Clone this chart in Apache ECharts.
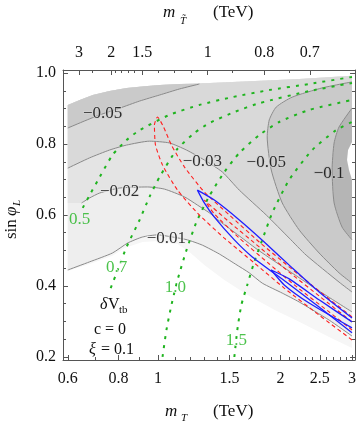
<!DOCTYPE html>
<html>
<head>
<meta charset="utf-8">
<script src="https://cdn.jsdelivr.net/npm/echarts@6/dist/echarts.min.js"></script>
<style>
html, body { margin: 0; padding: 0; background: #fff; }
#chart { width: 359px; height: 421px; }
</style>
</head>
<body>
<div id="chart"></div>
<script>
// ---- axis ticks ----
const bottomTickValues = [0.6, 0.8, 1, 1.5, 2, 2.5, 3];
const bottomMinorTicks = [0.7, 0.9, 1.1, 1.2, 1.3, 1.4, 1.6, 1.7, 1.8, 1.9, 2.1, 2.2, 2.3, 2.4, 2.6, 2.7, 2.8, 2.9];
// top axis: m_T~ labels sit at these m_T positions
const topTickPos = [0.639, 0.768, 0.915, 1.325, 1.825, 2.363];
const topTickLabels = ['3', '2', '1.5', '1', '0.8', '0.7'];
const topMinorTicks = [0.689, 0.787, 0.812, 0.843, 0.876, 0.999, 1.098, 1.206, 1.523, 2.103];
const leftTickValues = [0.2, 0.4, 0.6, 0.8, 1.0];
const leftMinorTicks = [0.25, 0.3, 0.35, 0.45, 0.5, 0.55, 0.65, 0.7, 0.75, 0.85, 0.9, 0.95];

// ---- shaded domain edges [m_T, sin phi_L] ----
const topEdge = [[0.600, 0.910], [0.642, 0.924], [0.691, 0.938], [0.760, 0.949], [0.837, 0.958], [0.927, 0.963],
  [1.009, 0.966], [1.129, 0.969], [1.338, 0.972], [1.677, 0.977], [2.224, 0.983], [3.0, 0.992]];
const bottomEdge = [[3.0, 0.225], [2.635, 0.256], [2.224, 0.299], [1.942, 0.332], [1.677, 0.372], [1.456, 0.417],
  [1.300, 0.459], [1.195, 0.496], [1.117, 0.518], [1.009, 0.527], [0.916, 0.524], [0.828, 0.507], [0.773, 0.485],
  [0.679, 0.462], [0.600, 0.442]];
const leftStep02 = [[0.600, 0.634]];

// ---- dV_tb contours ----
const c01 = [[0.600, 0.445], [0.679, 0.468], [0.773, 0.493], [0.842, 0.521], [0.916, 0.538], [0.997, 0.544],
  [1.085, 0.538], [1.181, 0.530], [1.286, 0.515], [1.416, 0.490], [1.549, 0.462], [1.677, 0.437], [1.805, 0.408],
  [2.021, 0.380], [2.224, 0.355], [2.635, 0.304], [3.0, 0.259]];
const c02 = [[0.649, 0.634], [0.679, 0.648], [0.719, 0.662], [0.805, 0.676], [0.942, 0.679], [1.037, 0.673],
  [1.162, 0.651], [1.250, 0.628], [1.338, 0.606], [1.416, 0.583], [1.585, 0.541], [1.774, 0.499], [2.102, 0.442],
  [2.490, 0.386], [3.0, 0.327]];
const c03 = [[0.600, 0.732], [0.679, 0.761], [0.760, 0.783], [0.837, 0.797], [0.953, 0.808], [1.067, 0.803],
  [1.175, 0.783], [1.300, 0.755], [1.440, 0.721], [1.585, 0.670], [1.846, 0.600], [2.102, 0.535], [2.314, 0.487],
  [2.788, 0.411], [3.0, 0.383]];
const c05a = [[0.600, 0.845], [0.660, 0.865], [0.719, 0.882], [0.805, 0.901], [0.901, 0.921], [1.009, 0.938],
  [1.129, 0.955], [1.264, 0.969]];
const c05b = [[3.0, 0.975], [2.533, 0.958], [2.138, 0.932], [1.953, 0.904], [1.878, 0.868], [1.856, 0.820],
  [1.899, 0.727], [2.021, 0.634], [2.224, 0.558], [2.490, 0.493], [2.788, 0.437], [3.0, 0.408]];
const c10 = [[3.0, 0.901], [2.788, 0.848], [2.711, 0.803], [2.680, 0.727], [2.711, 0.634], [2.836, 0.566], [3.0, 0.530]];
const notch = [[3.0, 0.806], [2.934, 0.783], [2.917, 0.755], [2.950, 0.727], [3.0, 0.699]];

// ---- m_T~ contours (green) ----
const g05 = [[0.653, 0.620], [0.679, 0.656], [0.719, 0.707], [0.773, 0.769], [0.837, 0.811], [0.901, 0.839],
  [1.067, 0.882], [1.264, 0.910], [1.523, 0.932], [1.878, 0.952], [2.353, 0.969], [3.0, 0.989]];
const g07 = [[0.765, 0.394], [0.805, 0.459], [0.837, 0.510], [0.901, 0.586], [0.953, 0.651], [1.009, 0.707],
  [1.110, 0.783], [1.229, 0.831], [1.338, 0.859], [1.541, 0.890], [1.774, 0.915], [2.353, 0.949], [3.0, 0.972]];
const g10 = [[1.026, 0.2], [1.049, 0.276], [1.079, 0.346], [1.117, 0.417], [1.175, 0.501], [1.243, 0.580],
  [1.338, 0.654], [1.456, 0.721], [1.585, 0.775], [1.774, 0.825], [1.987, 0.862], [2.353, 0.896], [3.0, 0.924]];
const g15 = [[1.541, 0.2], [1.567, 0.276], [1.603, 0.346], [1.658, 0.403], [1.725, 0.468], [1.805, 0.530],
  [1.910, 0.606], [2.102, 0.699], [2.394, 0.783], [2.742, 0.839], [3.0, 0.862]];

// ---- allowed regions (red dashed, blue solid) ----
const red1 = [[3.0, 0.313], [2.490, 0.386], [2.102, 0.454], [1.774, 0.524], [1.498, 0.600], [1.300, 0.665],
  [1.162, 0.735], [1.079, 0.797], [1.032, 0.848], [0.997, 0.876], [0.980, 0.854], [0.986, 0.797], [1.026, 0.741],
  [1.117, 0.670], [1.264, 0.600], [1.456, 0.535], [1.725, 0.465], [2.044, 0.394], [2.490, 0.318], [3.0, 0.248]];
const red2 = [[3.0, 0.299], [2.490, 0.372], [2.102, 0.439], [1.774, 0.510], [1.498, 0.580], [1.300, 0.642],
  [1.376, 0.603], [1.585, 0.535], [1.878, 0.462], [2.224, 0.392], [2.635, 0.327], [3.0, 0.276]];
const blue1 = [[3.0, 0.310], [2.490, 0.383], [2.138, 0.451], [1.825, 0.524], [1.585, 0.586], [1.376, 0.642],
  [1.250, 0.670], [1.300, 0.634], [1.376, 0.594], [1.541, 0.530], [1.706, 0.482], [2.067, 0.411], [2.490, 0.341],
  [3.0, 0.268]];
const blue2 = [[3.0, 0.299], [2.490, 0.361], [2.102, 0.420], [1.899, 0.445], [2.044, 0.403], [2.353, 0.352], [3.0, 0.282]];

// ---- inline labels ----
const contourLabelText = ['\u22120.05', '\u22120.03', '\u22120.05', '\u22120.1', '\u22120.02', '\u22120.01'];
const contourLabelPos = [[0.731, 0.887], [1.286, 0.752], [1.846, 0.749], [2.635, 0.718], [0.805, 0.665], [1.049, 0.535]];
const greenLabelText = ['0.5', '0.7', '1.0', '1.5'];
const greenLabelPos = [[0.642, 0.586], [0.791, 0.451], [1.104, 0.397], [1.558, 0.245]];

// ---- styles ----
const FONT = 'Liberation Serif';
const shade = { s0: '#f6f6f6', s1: '#eeeeee', s2: '#e4e4e4', s3: '#d9d9d9', s5: '#cacaca', s10: '#b5b5b5' };
const contourHalo = ['#d2d2d2', '#dedede', '#d2d2d2', '#bdbdbd', '#e8e8e8', '#f2f2f2'];
const greenHalo = ['#eeeeee', '#ffffff', '#ffffff', '#ffffff'];
const GREEN = '#1fb41f', RED = '#ff1f1f', BLUE = '#1f1fff', CONTOUR = '#8a8a8a', FRAME = '#555';

const xMin = 0.584, xMax = 3.052, yMin = 0.1915, yMax = 1.0085;

function polygon(points, color, z) {
    return {
        type: 'custom', xAxisIndex: 0, yAxisIndex: 0, silent: true, z: z,
        data: points,
        encode: { x: 0, y: 1 },
        renderItem: function (params, api) {
            if (params.dataIndex !== 0) return null;
            return {
                type: 'polygon',
                shape: { points: points.map(function (p) { return api.coord(p); }) },
                style: { fill: color }
            };
        }
    };
}

function curve(points, color, width, type, z) {
    return {
        type: 'line', xAxisIndex: 0, yAxisIndex: 0, data: points, symbol: 'none', silent: true,
        smooth: 0.2, z: z,
        lineStyle: { color: color, width: width, type: type, cap: 'butt' }
    };
}

function labels(pos, text, halo, color) {
    return {
        type: 'scatter', xAxisIndex: 0, yAxisIndex: 0, symbolSize: 1, silent: true, z: 20,
        itemStyle: { color: 'rgba(0,0,0,0)' },
        data: pos.map(function (p, i) {
            return { value: p, name: text[i], label: { textBorderColor: halo[i] } };
        }),
        label: {
            show: true, position: 'inside', formatter: '{b}', color: color,
            fontFamily: FONT, fontSize: 17, textBorderWidth: 2
        }
    };
}

const ticksOnly = function (values, pos, len, show) {
    return {
        axisLine: { show: !!show, lineStyle: { color: FRAME, width: 1 } },
        axisTick: { show: true, inside: true, length: len, customValues: values, lineStyle: { color: FRAME } },
        axisLabel: { show: false },
        splitLine: { show: false }
    };
};

const labelStyle = { color: '#111', fontFamily: FONT, fontSize: 16 };

const myChart = echarts.init(document.getElementById('chart'));

const option = {
    animation: false,
    grid: { left: 63, right: 3, top: 70, bottom: 61 },
    xAxis: [
        Object.assign({ type: 'log', position: 'bottom', min: xMin, max: xMax },
            ticksOnly(bottomTickValues, 'bottom', 5, true),
            { axisLabel: Object.assign({ show: true, margin: 11, customValues: bottomTickValues,
                formatter: function (v) { return String(v); } }, labelStyle) }),
        Object.assign({ type: 'log', position: 'bottom', min: xMin, max: xMax }, ticksOnly(bottomMinorTicks, 'bottom', 3)),
        Object.assign({ type: 'log', position: 'top', min: xMin, max: xMax },
            ticksOnly(topTickPos, 'top', 5, true),
            { axisLabel: Object.assign({ show: true, margin: 9, customValues: topTickPos,
                formatter: function (v) {
                    for (let i = 0; i < topTickPos.length; i++) {
                        if (Math.abs(topTickPos[i] - v) < 1e-6) return topTickLabels[i];
                    }
                    return '';
                } }, labelStyle) }),
        Object.assign({ type: 'log', position: 'top', min: xMin, max: xMax }, ticksOnly(topMinorTicks, 'top', 3))
    ],
    yAxis: [
        Object.assign({ type: 'value', position: 'left', min: yMin, max: yMax },
            ticksOnly(leftTickValues, 'left', 5, true),
            { axisLabel: Object.assign({ show: true, margin: 7, customValues: leftTickValues,
                formatter: function (v) { return v.toFixed(1); } }, labelStyle) }),
        Object.assign({ type: 'value', position: 'left', min: yMin, max: yMax }, ticksOnly(leftMinorTicks, 'left', 3)),
        Object.assign({ type: 'value', position: 'right', min: yMin, max: yMax }, ticksOnly(leftTickValues, 'right', 5, true)),
        Object.assign({ type: 'value', position: 'right', min: yMin, max: yMax }, ticksOnly(leftMinorTicks, 'right', 3))
    ],
    series: [
        // shaded levels of dV_tb
        polygon(topEdge.concat(bottomEdge), shade.s0, 1),
        polygon(topEdge.concat(c01.slice().reverse()), shade.s1, 2),
        polygon(topEdge.concat(c02.slice().reverse(), leftStep02), shade.s2, 3),
        polygon(topEdge.concat(c03.slice().reverse()), shade.s3, 4),
        polygon(topEdge.filter(function (p) { return p[0] < c05a[c05a.length - 1][0]; }).concat(c05a.slice().reverse()), shade.s5, 5),
        polygon(c05b, shade.s5, 5),
        polygon(c10, shade.s10, 6),
        polygon(notch, '#ffffff', 7),
        // contour lines
        curve(c01, CONTOUR, 1, 'solid', 8),
        curve(c02, CONTOUR, 1, 'solid', 8),
        curve(c03, CONTOUR, 1, 'solid', 8),
        curve(c05a, CONTOUR, 1, 'solid', 8),
        curve(c05b, CONTOUR, 1, 'solid', 8),
        curve(c10, CONTOUR, 1, 'solid', 8),
        // m_T~ contours
        curve(g05, GREEN, 2, [3, 6], 9),
        curve(g07, GREEN, 2, [3, 6], 9),
        curve(g10, GREEN, 2, [3, 6], 9),
        curve(g15, GREEN, 2, [3, 6], 9),
        // regions
        curve(red1, RED, 1.1, [4, 3], 10),
        curve(red2, RED, 1.1, [4, 3], 10),
        curve(blue1, BLUE, 1.3, 'solid', 11),
        curve(blue2, BLUE, 1.3, 'solid', 11),
        labels(contourLabelPos, contourLabelText, contourHalo, '#000'),
        labels(greenLabelPos, greenLabelText, greenHalo, GREEN)
    ],
    graphic: [
        // bottom axis title
        { type: 'text', x: 165, y: 412, style: { text: 'm', fontFamily: FONT, fontStyle: 'italic', fontSize: 17, fill: '#111', verticalAlign: 'middle', textVerticalAlign: 'middle' } },
        { type: 'text', x: 181, y: 418, style: { text: 'T', fontFamily: FONT, fontStyle: 'italic', fontSize: 11, fill: '#111', verticalAlign: 'middle', textVerticalAlign: 'middle' } },
        { type: 'text', x: 213, y: 412, style: { text: '(TeV)', fontFamily: FONT, fontSize: 17, fill: '#111', verticalAlign: 'middle', textVerticalAlign: 'middle' } },
        // top axis title
        { type: 'text', x: 163, y: 13, style: { text: 'm', fontFamily: FONT, fontStyle: 'italic', fontSize: 17, fill: '#111', verticalAlign: 'middle', textVerticalAlign: 'middle' } },
        { type: 'text', x: 180, y: 21, style: { text: 'T\u0303', fontFamily: FONT, fontStyle: 'italic', fontSize: 11, fill: '#111', verticalAlign: 'middle', textVerticalAlign: 'middle' } },
        { type: 'text', x: 213, y: 13, style: { text: '(TeV)', fontFamily: FONT, fontSize: 17, fill: '#111', verticalAlign: 'middle', textVerticalAlign: 'middle' } },
        // left axis title, reading upward
        {
            type: 'group', x: 12, y: 215, rotation: Math.PI / 2,
            children: [
                { type: 'text', x: -24, y: 0, style: { text: 'sin', fontFamily: FONT, fontSize: 17, fill: '#111', verticalAlign: 'middle', textVerticalAlign: 'middle' } },
                { type: 'text', x: -1, y: 0, style: { text: '\u03c6', fontFamily: FONT, fontStyle: 'italic', fontSize: 17, fill: '#111', verticalAlign: 'middle', textVerticalAlign: 'middle' } },
                { type: 'text', x: 9, y: 5, style: { text: 'L', fontFamily: FONT, fontStyle: 'italic', fontSize: 11, fill: '#111', verticalAlign: 'middle', textVerticalAlign: 'middle' } }
            ]
        },
        // panel note
        { type: 'text', x: 100, y: 305, style: { text: '\u03b4', fontFamily: FONT, fontStyle: 'italic', fontSize: 16, fill: '#111', verticalAlign: 'middle', textVerticalAlign: 'middle' } },
        { type: 'text', x: 108, y: 305, style: { text: 'V', fontFamily: FONT, fontSize: 16, fill: '#111', verticalAlign: 'middle', textVerticalAlign: 'middle' } },
        { type: 'text', x: 119, y: 310, style: { text: 'tb', fontFamily: FONT, fontSize: 11, fill: '#111', verticalAlign: 'middle', textVerticalAlign: 'middle' } },
        { type: 'text', x: 110, y: 330, style: { text: 'c = 0', fontFamily: FONT, fontSize: 16, fill: '#111', align: 'center', textAlign: 'center', verticalAlign: 'middle', textVerticalAlign: 'middle' } },
        { type: 'text', x: 89, y: 350, style: { text: '\u03be', fontFamily: FONT, fontStyle: 'italic', fontSize: 16, fill: '#111', verticalAlign: 'middle', textVerticalAlign: 'middle' } },
        { type: 'text', x: 101, y: 350, style: { text: '= 0.1', fontFamily: FONT, fontSize: 16, fill: '#111', verticalAlign: 'middle', textVerticalAlign: 'middle' } }
    ]
};

myChart.setOption(option);

window.addEventListener('resize', function () {
    myChart.resize();
});
</script>
</body>
</html>
